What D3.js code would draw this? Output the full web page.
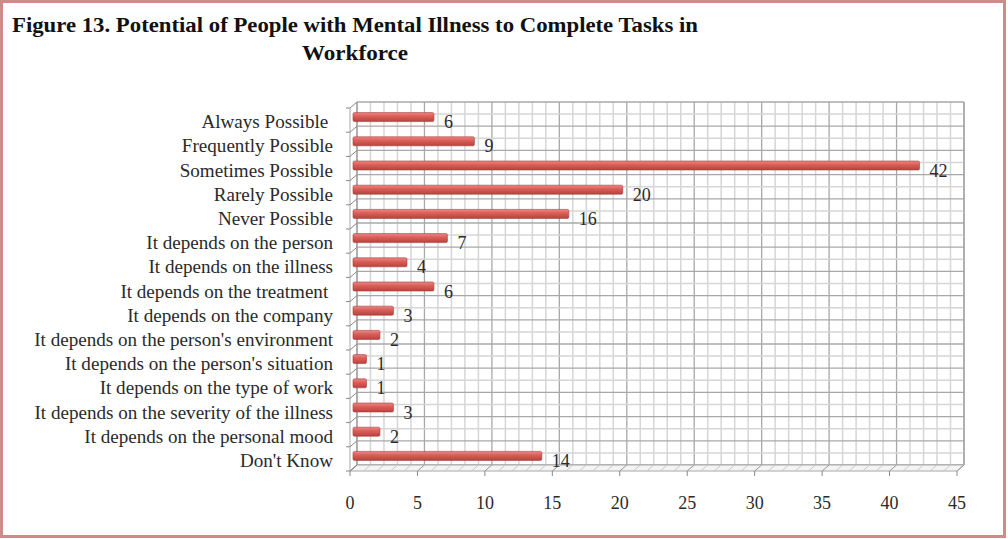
<!DOCTYPE html>
<html>
<head>
<meta charset="utf-8">
<script src="https://cdn.jsdelivr.net/npm/d3@7"></script>
<style>
  body { margin: 0; background: #fff; }
  svg text { font-family: "Liberation Serif", "Times New Roman", serif; white-space: pre; }
</style>
</head>
<body>
<div id="chart"></div>
<script>
// data
var categories = [
  "Always Possible ", "Frequently Possible", "Sometimes Possible", "Rarely Possible",
  "Never Possible", "It depends on the person", "It depends on the illness",
  "It depends on the treatment ", "It depends on the company",
  "It depends on the person's environment", "It depends on the person's situation",
  "It depends on the type of work", "It depends on the severity of the illness",
  "It depends on the personal mood", "Don't Know"
];
var values = [6, 9, 42, 20, 16, 7, 4, 6, 3, 2, 1, 1, 3, 2, 14];
var xTicks = [0, 5, 10, 15, 20, 25, 30, 35, 40, 45];
var titleLine1 = "Figure 13. Potential of People with Mental Illness to Complete Tasks in";
var titleLine2 = "Workforce";

var W = 1008, H = 539;
var wall = { left: 357, right: 964, top: 102, bottom: 465 };
var depth = { dx: -7, dy: 6 };   // front edge of the floor relative to back wall

var svg = d3.select("#chart").append("svg")
    .attr("width", W).attr("height", H);

// border
svg.append("rect")
    .attr("x", 1.5).attr("y", 1.5).attr("width", W - 5).attr("height", H - 4)
    .attr("fill", "none").attr("stroke", "#cf8a8a").attr("stroke-width", 3);

// title
svg.append("text")
    .attr("x", 12).attr("y", 32)
    .attr("font-size", 21).attr("font-weight", "bold").attr("fill", "#111")
    .attr("textLength", 686).attr("lengthAdjust", "spacingAndGlyphs")
    .text(titleLine1);
svg.append("text")
    .attr("x", 302).attr("y", 60)
    .attr("font-size", 21).attr("font-weight", "bold").attr("fill", "#111")
    .attr("textLength", 106).attr("lengthAdjust", "spacingAndGlyphs")
    .text(titleLine2);

var x = d3.scaleLinear().domain([0, 45]).range([wall.left, wall.right]);
var y = d3.scaleBand().domain(categories).range([wall.top, wall.bottom]);

var grid = svg.append("g");

// vertical gridlines, every unit, darker at every 5
d3.range(0, 46).forEach(function (v) {
  grid.append("line")
      .attr("x1", x(v)).attr("x2", x(v))
      .attr("y1", wall.top).attr("y2", wall.bottom)
      .attr("stroke", v % 5 == 0 ? "#a8a8a8" : "#d6d6d6")
      .attr("stroke-width", v % 5 == 0 ? 1.3 : 1.5);
});

// horizontal gridlines at band edges and band middles
var yLines = [];
categories.forEach(function (c) { yLines.push({ y: y(c), major: true }); yLines.push({ y: y(c) + y.bandwidth() / 2, major: false }); });
yLines.push({ y: wall.bottom, major: true });
yLines.forEach(function (l) {
  grid.append("line")
      .attr("x1", wall.left).attr("x2", wall.right)
      .attr("y1", l.y).attr("y2", l.y)
      .attr("stroke", l.major ? "#a8a8a8" : "#d6d6d6")
      .attr("stroke-width", l.major ? 1.3 : 1.5);
});

// floor
var floor = svg.append("g");
floor.append("path")
    .attr("d", "M" + wall.left + "," + wall.bottom + "L" + wall.right + "," + wall.bottom +
      "L" + (wall.right + depth.dx) + "," + (wall.bottom + depth.dy) +
      "L" + (wall.left + depth.dx) + "," + (wall.bottom + depth.dy) + "Z")
    .attr("fill", "#f4f4f4").attr("stroke", "#a8a8a8").attr("stroke-width", 1);
d3.range(0, 46).forEach(function (v) {
  floor.append("line")
      .attr("x1", x(v)).attr("y1", wall.bottom)
      .attr("x2", x(v) + depth.dx).attr("y2", wall.bottom + depth.dy)
      .attr("stroke", v % 5 == 0 ? "#999" : "#c8c8c8").attr("stroke-width", 1);
});
// x ticks under floor front
xTicks.forEach(function (v) {
  floor.append("line")
      .attr("x1", x(v) + depth.dx).attr("x2", x(v) + depth.dx)
      .attr("y1", wall.bottom + depth.dy).attr("y2", wall.bottom + depth.dy + 5)
      .attr("stroke", "#888");
});

// left side wall edge and ticks
var side = svg.append("g");
side.append("line")
    .attr("x1", wall.left).attr("x2", wall.left)
    .attr("y1", wall.top).attr("y2", wall.bottom)
    .attr("stroke", "#999");
side.append("line")
    .attr("x1", wall.left + depth.dx).attr("x2", wall.left + depth.dx)
    .attr("y1", wall.top + depth.dy).attr("y2", wall.bottom + depth.dy)
    .attr("stroke", "#aaa");
side.append("line")
    .attr("x1", wall.right).attr("x2", wall.right)
    .attr("y1", wall.top).attr("y2", wall.bottom)
    .attr("stroke", "#999");
categories.concat([null]).forEach(function (c) {
  var yy = c == null ? wall.bottom : y(c);
  side.append("path")
      .attr("d", "M" + (wall.left + depth.dx - 4) + "," + (yy + depth.dy) +
        "L" + (wall.left + depth.dx) + "," + (yy + depth.dy) +
        "L" + wall.left + "," + yy)
      .attr("fill", "none").attr("stroke", "#888").attr("stroke-width", 1);
});

// bars
var defs = svg.append("defs");
var grad = defs.append("linearGradient").attr("id", "barGrad")
    .attr("x1", 0).attr("y1", 0).attr("x2", 0).attr("y2", 1);
grad.append("stop").attr("offset", "0%").attr("stop-color", "#e98a86");
grad.append("stop").attr("offset", "40%").attr("stop-color", "#dc5f59");
grad.append("stop").attr("offset", "100%").attr("stop-color", "#b8423d");

var barH = 9;
var bdx = depth.dx / 2 - 0.5, bdy = depth.dy / 2;

svg.selectAll(".bar")
    .data(values)
    .enter()
    .append("rect")
    .attr("class", "bar")
    .attr("x", function (d) { return x(0) + bdx; })
    .attr("y", function (d, i) { return y(categories[i]) + y.bandwidth() / 2 - barH / 2 + bdy; })
    .attr("width", function (d) { return x(d) - x(0); })
    .attr("height", barH)
    .attr("rx", 1.5)
    .attr("fill", "url(#barGrad)")
    .attr("stroke", "#a83b37").attr("stroke-width", 0.6);

// value labels
svg.selectAll(".bartext")
    .data(values)
    .enter()
    .append("text")
    .attr("class", "bartext")
    .attr("x", function (d) { return x(d) + bdx + 10; })
    .attr("y", function (d, i) { return y(categories[i]) + y.bandwidth() / 2 + bdy + 11; })
    .attr("font-size", 18).attr("fill", "#2a2a2a")
    .text(function (d) { return d; });

// category labels
svg.selectAll(".catlabel")
    .data(categories)
    .enter()
    .append("text")
    .attr("class", "catlabel")
    .attr("x", 333)
    .attr("y", function (d) { return y(d) + y.bandwidth() / 2 + 14; })
    .attr("text-anchor", "end")
    .attr("font-size", 19.1).attr("fill", "#2a2a2a")
    .text(function (d) { return d; });

// x tick labels
svg.selectAll(".xlabel")
    .data(xTicks)
    .enter()
    .append("text")
    .attr("class", "xlabel")
    .attr("x", function (d) { return x(d) + depth.dx; })
    .attr("y", 509)
    .attr("text-anchor", "middle")
    .attr("font-size", 18).attr("fill", "#2a2a2a")
    .text(function (d) { return d; });
</script>
</body>
</html>
